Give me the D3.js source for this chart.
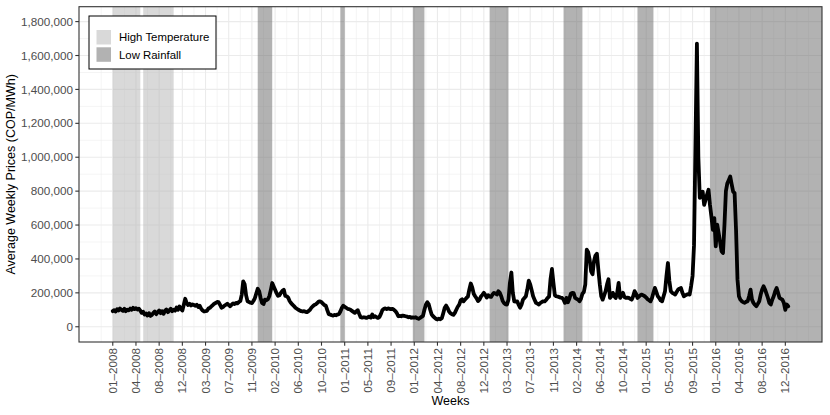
<!DOCTYPE html>
<html><head><meta charset="utf-8">
<script src="https://cdn.jsdelivr.net/npm/d3@7"></script>
<style>
body{margin:0;background:#fff;}
text{font-family:"Liberation Sans",Arial,Helvetica,sans-serif;}
</style></head>
<body><svg id="c" width="830" height="415"></svg>
<script>
// Weekly average prices, thousands of COP/MWh, week index 0 = first week of 2008
const priceK = [
 92,98,90,104,96,108,99,94,106,92,101,97,107,100,112,104,
 110,102,106,95,82,88,72,78,66,80,64,70,82,90,74,86,
 96,80,92,76,94,102,86,96,106,92,100,95,114,100,120,106,
 96,130,165,140,128,136,126,132,128,124,130,116,124,106,96,90,
 92,94,108,112,120,128,136,140,146,145,130,112,116,124,130,136,
 128,121,130,138,134,141,138,146,152,190,268,250,185,150,146,142,
 140,152,168,196,224,210,170,140,134,160,156,162,180,215,258,238,
 218,198,182,186,200,212,218,182,180,172,152,140,130,122,112,106,
 100,96,92,90,92,88,86,92,100,112,121,128,132,140,148,150,
 145,136,128,124,98,74,72,68,66,70,68,72,74,90,110,124,
 118,112,106,104,100,94,88,82,90,98,76,56,54,56,55,52,
 56,60,54,72,58,62,56,52,58,76,98,106,108,104,108,106,
 104,106,100,92,80,62,64,62,66,64,62,60,56,58,53,55,
 54,56,50,47,52,58,64,100,130,145,132,100,72,62,54,46,
 43,48,44,50,80,112,125,110,90,80,74,70,82,100,118,130,
 156,162,150,160,170,178,220,255,232,195,180,168,152,160,178,188,
 200,188,172,186,178,176,190,200,196,190,210,200,180,152,140,132,
 131,160,260,320,200,150,148,150,130,112,130,160,170,180,220,272,
 250,215,180,160,141,136,131,140,146,150,150,158,170,178,280,341,
 260,185,180,178,175,172,170,160,141,170,145,165,195,200,198,170,
 165,160,150,165,195,205,250,455,440,396,327,310,386,420,431,337,
 250,180,160,185,210,250,280,170,180,200,180,170,200,259,170,185,
 200,175,170,172,170,165,160,180,210,195,170,178,186,190,185,180,
 172,162,156,150,170,200,229,205,180,170,155,150,180,210,300,376,
 270,210,200,195,190,205,219,225,229,200,180,185,190,192,190,240,
 300,480,1075,1670,1000,760,780,797,719,749,780,808,720,650,572,641,
 474,602,553,500,445,435,600,800,847,866,886,840,797,788,572,278,
 180,160,150,145,141,148,150,180,219,160,141,130,121,135,150,190,
 220,239,220,195,170,140,131,160,180,210,229,200,170,165,160,140,
 100,131,121
];
// Tick labels every 16 weeks
const tickLabels = ["01–2008","04–2008","08–2008","12–2008","03–2009","07–2009","11–2009","02–2010","06–2010","10–2010","01–2011","05–2011","09–2011","01–2012","04–2012","08–2012","12–2012","03–2013","07–2013","11–2013","02–2014","06–2014","10–2014","01–2015","05–2015","09–2015","01–2016","04–2016","08–2016","12–2016"];
const tickStep = 16;
const yTicks = [0,200000,400000,600000,800000,1000000,1200000,1400000,1600000,1800000];
// Shaded periods (week index)
const highTempStart = [0,21];
const highTempEnd   = [19,42];
const lowRainStart  = [100,157,207,260,311,362,412];
const lowRainEnd    = [110,160,215,273,324,373,null];
const legendLabels = ["High Temperature","Low Rainfall"];

const svg = d3.select("#c");
const L=79, R=822, T=6.7, B=342;
const n = priceK.length;
const x = d3.scaleLinear().domain([-0.05*(n-1), (n-1)*1.05]).range([L,R]);
const y = d3.scaleLinear().domain([-89900,1887900]).range([B,T]);

svg.append("rect").attr("x",L).attr("y",T).attr("width",R-L).attr("height",B-T).attr("fill","#fff");
svg.append("clipPath").attr("id","pc").append("rect").attr("x",L).attr("y",T).attr("width",R-L).attr("height",B-T);
const g = svg.append("g").attr("clip-path","url(#pc)");

// grid
const majX = tickLabels.map((d,i)=>i*tickStep);
const minX = [];
for(let k=-1;k<majX.length;k++){ minX.push(k*tickStep + tickStep/2); }
minX.push(majX.length*tickStep);
const minY = [];
for(let k=-1;k<=yTicks.length;k++){ minY.push(k*200000+100000); }
g.selectAll(".gmy").data(minY).join("line").attr("x1",L).attr("x2",R)
 .attr("y1",d=>y(d)).attr("y2",d=>y(d)).attr("stroke","#ebebeb").attr("stroke-width",0.55);
g.selectAll(".gmx").data(minX).join("line").attr("y1",T).attr("y2",B)
 .attr("x1",d=>x(d)).attr("x2",d=>x(d)).attr("stroke","#ebebeb").attr("stroke-width",0.55);
g.selectAll(".gy").data(yTicks).join("line").attr("x1",L).attr("x2",R)
 .attr("y1",d=>y(d)).attr("y2",d=>y(d)).attr("stroke","#ebebeb").attr("stroke-width",1.1);
g.selectAll(".gx").data(majX).join("line").attr("y1",T).attr("y2",B)
 .attr("x1",d=>x(d)).attr("x2",d=>x(d)).attr("stroke","#ebebeb").attr("stroke-width",1.1);

// bands
const htFill="#b3b3b3", lrFill="#666666", bandOp=0.5;
g.selectAll(".ht").data(highTempStart).join("rect")
 .attr("x",(d)=>x(d)).attr("width",(d,i)=>x(highTempEnd[i])-x(d))
 .attr("y",T).attr("height",B-T).attr("fill",htFill).attr("opacity",bandOp);
g.selectAll(".lr").data(lowRainStart).join("rect")
 .attr("x",(d)=>x(d)).attr("width",(d,i)=>x(lowRainEnd[i]===null?x.domain()[1]:lowRainEnd[i])-x(d))
 .attr("y",T).attr("height",B-T).attr("fill",lrFill).attr("opacity",bandOp);

// line
const line = d3.line().x((d,i)=>x(i)).y(d=>y(d*1000));
g.append("path").datum(priceK).attr("d",line).attr("fill","none")
 .attr("stroke","#000").attr("stroke-width",3.8).attr("stroke-linejoin","round").attr("stroke-linecap","round");

// border
svg.append("rect").attr("x",L).attr("y",T).attr("width",R-L).attr("height",B-T)
 .attr("fill","none").attr("stroke","#333").attr("stroke-width",1.1);

// y axis
const tl=3.7;
svg.selectAll(".yt").data(yTicks).join("line").attr("x1",L-tl).attr("x2",L)
 .attr("y1",d=>y(d)).attr("y2",d=>y(d)).attr("stroke","#333").attr("stroke-width",1.1);
svg.selectAll(".yl").data(yTicks).join("text").attr("x",L-tl-2.4).attr("y",d=>y(d))
 .attr("dy","0.35em").attr("text-anchor","end").attr("fill","#4d4d4d").attr("font-size","11.7px")
 .text(d=>d3.format(",")(d));
// x axis
svg.selectAll(".xt").data(majX).join("line").attr("y1",B).attr("y2",B+tl)
 .attr("x1",d=>x(d)).attr("x2",d=>x(d)).attr("stroke","#333").attr("stroke-width",1.1);
svg.selectAll(".xl").data(tickLabels).join("text")
 .attr("transform",(d,i)=>`translate(${x(i*tickStep)},${B+tl+2.4}) rotate(-90)`)
 .attr("dy","0.35em").attr("text-anchor","end").attr("fill","#4d4d4d").attr("font-size","11.7px")
 .text(d=>d);

// titles
svg.append("text").attr("x",(L+R)/2).attr("y",405).attr("text-anchor","middle")
 .attr("font-size","12.5px").attr("fill","#000").text("Weeks");
svg.append("text").attr("transform",`translate(14.5,${(T+B)/2}) rotate(-90)`).attr("text-anchor","middle")
 .attr("font-size","12.5px").attr("fill","#000").text("Average Weekly Prices (COP/MWh)");

// legend
const lg = svg.append("g");
lg.append("rect").attr("x",89).attr("y",16).attr("width",127).attr("height",53)
 .attr("fill","#fff").attr("stroke","#000").attr("stroke-width",1);
const keyFills=[htFill,lrFill];
legendLabels.forEach((lab,i)=>{
  const ky = 30 + i*17.3;
  lg.append("rect").attr("x",96.5).attr("y",ky).attr("width",14.5).attr("height",14.5)
    .attr("fill",keyFills[i]).attr("opacity",bandOp);
  lg.append("text").attr("x",119).attr("y",ky+7.3).attr("dy","0.35em").attr("font-size","11.4px")
    .attr("fill","#000").text(lab);
});
</script></body></html>
